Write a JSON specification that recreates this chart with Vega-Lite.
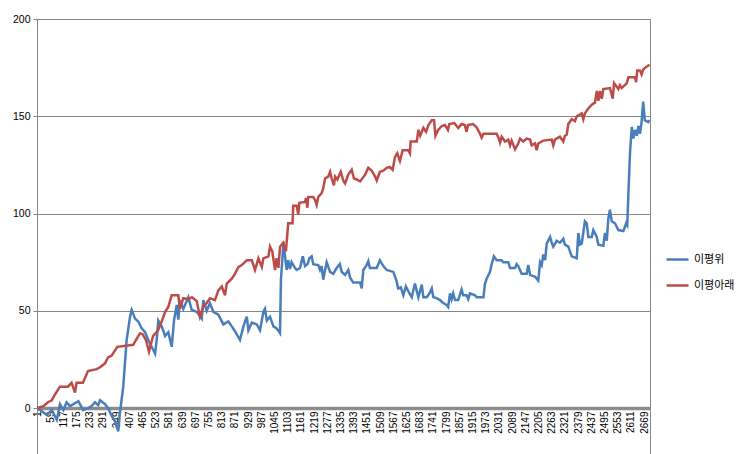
{
  "$schema": "https://vega.github.io/schema/vega-lite/v6.json",
  "width": 613,
  "height": 435,
  "autosize": {"type": "none"},
  "padding": {"left": 37, "top": 19, "right": 94, "bottom": 0},
  "background": "white",
  "config": {
    "view": {"stroke": "#868686", "strokeWidth": 1},
    "font": "Liberation Sans"
  },
  "data": {
    "values": [
      {"s": "이평위", "i": 1, "v": 0}, {"s": "이평위", "i": 44, "v": -3.5}, {"s": "이평위", "i": 66, "v": -1}, {"s": "이평위", "i": 88, "v": -6}, {"s": "이평위", "i": 102, "v": 2}, {"s": "이평위", "i": 117, "v": -1}, {"s": "이평위", "i": 131, "v": 3}, {"s": "이평위", "i": 146, "v": 1}, {"s": "이평위", "i": 161, "v": 2}, {"s": "이평위", "i": 183, "v": 3.5}, {"s": "이평위", "i": 204, "v": -1}, {"s": "이평위", "i": 226, "v": 0}, {"s": "이평위", "i": 241, "v": 1}, {"s": "이평위", "i": 256, "v": 3}, {"s": "이평위", "i": 270, "v": 1.5}, {"s": "이평위", "i": 278, "v": 4}, {"s": "이평위", "i": 300, "v": 2}, {"s": "이평위", "i": 313, "v": 0}, {"s": "이평위", "i": 329, "v": -4}, {"s": "이평위", "i": 344, "v": -7}, {"s": "이평위", "i": 358, "v": -12}, {"s": "이평위", "i": 366, "v": -2}, {"s": "이평위", "i": 380, "v": 11}, {"s": "이평위", "i": 395, "v": 35}, {"s": "이평위", "i": 410, "v": 47}, {"s": "이평위", "i": 417, "v": 50.5}, {"s": "이평위", "i": 432, "v": 46}, {"s": "이평위", "i": 446, "v": 44.5}, {"s": "이평위", "i": 461, "v": 41}, {"s": "이평위", "i": 476, "v": 39}, {"s": "이평위", "i": 490, "v": 35}, {"s": "이평위", "i": 505, "v": 31.5}, {"s": "이평위", "i": 520, "v": 28}, {"s": "이평위", "i": 527, "v": 35}, {"s": "이평위", "i": 534, "v": 45}, {"s": "이평위", "i": 549, "v": 42}, {"s": "이평위", "i": 564, "v": 37}, {"s": "이평위", "i": 578, "v": 39}, {"s": "이평위", "i": 593, "v": 31.5}, {"s": "이평위", "i": 603, "v": 45}, {"s": "이평위", "i": 615, "v": 53}, {"s": "이평위", "i": 622, "v": 45.5}, {"s": "이평위", "i": 629, "v": 55.5}, {"s": "이평위", "i": 644, "v": 51}, {"s": "이평위", "i": 666, "v": 57}, {"s": "이평위", "i": 681, "v": 50.5}, {"s": "이평위", "i": 703, "v": 49.5}, {"s": "이평위", "i": 725, "v": 46}, {"s": "이평위", "i": 732, "v": 55.5}, {"s": "이평위", "i": 747, "v": 50}, {"s": "이평위", "i": 761, "v": 54}, {"s": "이평위", "i": 776, "v": 49.5}, {"s": "이평위", "i": 798, "v": 48}, {"s": "이평위", "i": 820, "v": 43}, {"s": "이평위", "i": 842, "v": 44.5}, {"s": "이평위", "i": 857, "v": 42}, {"s": "이평위", "i": 871, "v": 39.5}, {"s": "이평위", "i": 893, "v": 35}, {"s": "이평위", "i": 908, "v": 42}, {"s": "이평위", "i": 923, "v": 47}, {"s": "이평위", "i": 930, "v": 40}, {"s": "이평위", "i": 945, "v": 44}, {"s": "이평위", "i": 967, "v": 43}, {"s": "이평위", "i": 981, "v": 40}, {"s": "이평위", "i": 996, "v": 49.5}, {"s": "이평위", "i": 1003, "v": 51}, {"s": "이평위", "i": 1011, "v": 45}, {"s": "이평위", "i": 1025, "v": 47}, {"s": "이평위", "i": 1040, "v": 42}, {"s": "이평위", "i": 1054, "v": 41}, {"s": "이평위", "i": 1069, "v": 38.5}, {"s": "이평위", "i": 1073, "v": 66}, {"s": "이평위", "i": 1079, "v": 76}, {"s": "이평위", "i": 1084, "v": 85.5}, {"s": "이평위", "i": 1091, "v": 78}, {"s": "이평위", "i": 1098, "v": 71}, {"s": "이평위", "i": 1105, "v": 76}, {"s": "이평위", "i": 1113, "v": 71.5}, {"s": "이평위", "i": 1120, "v": 75}, {"s": "이평위", "i": 1135, "v": 72}, {"s": "이평위", "i": 1142, "v": 71}, {"s": "이평위", "i": 1157, "v": 72}, {"s": "이평위", "i": 1169, "v": 78}, {"s": "이평위", "i": 1179, "v": 73}, {"s": "이평위", "i": 1190, "v": 74}, {"s": "이평위", "i": 1198, "v": 77}, {"s": "이평위", "i": 1208, "v": 78}, {"s": "이평위", "i": 1215, "v": 74}, {"s": "이평위", "i": 1237, "v": 73.5}, {"s": "이평위", "i": 1245, "v": 71}, {"s": "이평위", "i": 1252, "v": 73}, {"s": "이평위", "i": 1259, "v": 66}, {"s": "이평위", "i": 1267, "v": 71}, {"s": "이평위", "i": 1274, "v": 75}, {"s": "이평위", "i": 1289, "v": 70}, {"s": "이평위", "i": 1303, "v": 69}, {"s": "이평위", "i": 1318, "v": 72}, {"s": "이평위", "i": 1332, "v": 74}, {"s": "이평위", "i": 1340, "v": 70}, {"s": "이평위", "i": 1355, "v": 68.5}, {"s": "이평위", "i": 1369, "v": 71}, {"s": "이평위", "i": 1377, "v": 67}, {"s": "이평위", "i": 1391, "v": 64.5}, {"s": "이평위", "i": 1421, "v": 64.5}, {"s": "이평위", "i": 1428, "v": 61.5}, {"s": "이평위", "i": 1435, "v": 71}, {"s": "이평위", "i": 1450, "v": 73.5}, {"s": "이평위", "i": 1457, "v": 75.5}, {"s": "이평위", "i": 1464, "v": 72}, {"s": "이평위", "i": 1494, "v": 72}, {"s": "이평위", "i": 1508, "v": 76}, {"s": "이평위", "i": 1523, "v": 73}, {"s": "이평위", "i": 1538, "v": 71}, {"s": "이평위", "i": 1567, "v": 70}, {"s": "이평위", "i": 1582, "v": 65}, {"s": "이평위", "i": 1588, "v": 61.5}, {"s": "이평위", "i": 1600, "v": 62}, {"s": "이평위", "i": 1611, "v": 58}, {"s": "이평위", "i": 1622, "v": 62.5}, {"s": "이평위", "i": 1633, "v": 60}, {"s": "이평위", "i": 1648, "v": 57}, {"s": "이평위", "i": 1662, "v": 64}, {"s": "이평위", "i": 1677, "v": 57}, {"s": "이평위", "i": 1692, "v": 63.5}, {"s": "이평위", "i": 1699, "v": 57}, {"s": "이평위", "i": 1714, "v": 57}, {"s": "이평위", "i": 1728, "v": 59.5}, {"s": "이평위", "i": 1736, "v": 61.5}, {"s": "이평위", "i": 1743, "v": 57}, {"s": "이평위", "i": 1757, "v": 56.5}, {"s": "이평위", "i": 1772, "v": 55.5}, {"s": "이평위", "i": 1786, "v": 54}, {"s": "이평위", "i": 1801, "v": 53}, {"s": "이평위", "i": 1808, "v": 52}, {"s": "이평위", "i": 1816, "v": 59}, {"s": "이평위", "i": 1823, "v": 56}, {"s": "이평위", "i": 1830, "v": 59}, {"s": "이평위", "i": 1838, "v": 55.5}, {"s": "이평위", "i": 1852, "v": 55.5}, {"s": "이평위", "i": 1867, "v": 61}, {"s": "이평위", "i": 1874, "v": 58}, {"s": "이평위", "i": 1889, "v": 58}, {"s": "이평위", "i": 1896, "v": 56}, {"s": "이평위", "i": 1904, "v": 59}, {"s": "이평위", "i": 1926, "v": 58}, {"s": "이평위", "i": 1933, "v": 57}, {"s": "이평위", "i": 1963, "v": 57}, {"s": "이평위", "i": 1970, "v": 64}, {"s": "이평위", "i": 1977, "v": 66.5}, {"s": "이평위", "i": 1992, "v": 70}, {"s": "이평위", "i": 1999, "v": 74}, {"s": "이평위", "i": 2009, "v": 78}, {"s": "이평위", "i": 2021, "v": 76}, {"s": "이평위", "i": 2043, "v": 76}, {"s": "이평위", "i": 2050, "v": 75}, {"s": "이평위", "i": 2072, "v": 75}, {"s": "이평위", "i": 2080, "v": 72}, {"s": "이평위", "i": 2102, "v": 72}, {"s": "이평위", "i": 2109, "v": 74}, {"s": "이평위", "i": 2116, "v": 73}, {"s": "이평위", "i": 2131, "v": 69}, {"s": "이평위", "i": 2153, "v": 69}, {"s": "이평위", "i": 2160, "v": 73.5}, {"s": "이평위", "i": 2168, "v": 68.5}, {"s": "이평위", "i": 2190, "v": 67.5}, {"s": "이평위", "i": 2204, "v": 65.5}, {"s": "이평위", "i": 2212, "v": 75}, {"s": "이평위", "i": 2219, "v": 73.5}, {"s": "이평위", "i": 2226, "v": 79}, {"s": "이평위", "i": 2234, "v": 76}, {"s": "이평위", "i": 2241, "v": 84.5}, {"s": "이평위", "i": 2256, "v": 88}, {"s": "이평위", "i": 2263, "v": 85}, {"s": "이평위", "i": 2270, "v": 83}, {"s": "이평위", "i": 2285, "v": 86}, {"s": "이평위", "i": 2299, "v": 85}, {"s": "이평위", "i": 2314, "v": 87}, {"s": "이평위", "i": 2321, "v": 84}, {"s": "이평위", "i": 2336, "v": 83}, {"s": "이평위", "i": 2351, "v": 78}, {"s": "이평위", "i": 2373, "v": 77}, {"s": "이평위", "i": 2380, "v": 90}, {"s": "이평위", "i": 2387, "v": 84}, {"s": "이평위", "i": 2395, "v": 84.5}, {"s": "이평위", "i": 2409, "v": 96}, {"s": "이평위", "i": 2417, "v": 95}, {"s": "이평위", "i": 2424, "v": 88}, {"s": "이평위", "i": 2439, "v": 88}, {"s": "이평위", "i": 2446, "v": 91.5}, {"s": "이평위", "i": 2461, "v": 88}, {"s": "이평위", "i": 2468, "v": 84}, {"s": "이평위", "i": 2490, "v": 83.5}, {"s": "이평위", "i": 2497, "v": 90}, {"s": "이평위", "i": 2505, "v": 86}, {"s": "이평위", "i": 2512, "v": 97.5}, {"s": "이평위", "i": 2519, "v": 102}, {"s": "이평위", "i": 2527, "v": 96}, {"s": "이평위", "i": 2541, "v": 95}, {"s": "이평위", "i": 2556, "v": 91.5}, {"s": "이평위", "i": 2578, "v": 91}, {"s": "이평위", "i": 2590, "v": 95}, {"s": "이평위", "i": 2595, "v": 94}, {"s": "이평위", "i": 2600, "v": 110}, {"s": "이평위", "i": 2607, "v": 131}, {"s": "이평위", "i": 2615, "v": 144.5}, {"s": "이평위", "i": 2622, "v": 138.5}, {"s": "이평위", "i": 2629, "v": 143}, {"s": "이평위", "i": 2637, "v": 140}, {"s": "이평위", "i": 2644, "v": 145}, {"s": "이평위", "i": 2651, "v": 141}, {"s": "이평위", "i": 2658, "v": 147}, {"s": "이평위", "i": 2665, "v": 157.5}, {"s": "이평위", "i": 2672, "v": 148}, {"s": "이평위", "i": 2687, "v": 147}, {"s": "이평위", "i": 2693, "v": 148},
      {"s": "이평아래", "i": 1, "v": 0}, {"s": "이평아래", "i": 29, "v": 1}, {"s": "이평아래", "i": 49, "v": 3}, {"s": "이평아래", "i": 66, "v": 4}, {"s": "이평아래", "i": 80, "v": 7}, {"s": "이평아래", "i": 102, "v": 11}, {"s": "이평아래", "i": 137, "v": 11}, {"s": "이평아래", "i": 153, "v": 13}, {"s": "이평아래", "i": 168, "v": 8}, {"s": "이평아래", "i": 175, "v": 13}, {"s": "이평아래", "i": 203, "v": 13}, {"s": "이평아래", "i": 225, "v": 19}, {"s": "이평아래", "i": 263, "v": 20}, {"s": "이평아래", "i": 278, "v": 21}, {"s": "이평아래", "i": 300, "v": 23}, {"s": "이평아래", "i": 313, "v": 26}, {"s": "이평아래", "i": 329, "v": 27}, {"s": "이평아래", "i": 354, "v": 31.5}, {"s": "이평아래", "i": 424, "v": 32.5}, {"s": "이평아래", "i": 436, "v": 35}, {"s": "이평아래", "i": 454, "v": 38.5}, {"s": "이평아래", "i": 465, "v": 38}, {"s": "이평아래", "i": 480, "v": 35}, {"s": "이평아래", "i": 493, "v": 29}, {"s": "이평아래", "i": 511, "v": 37}, {"s": "이평아래", "i": 533, "v": 40}, {"s": "이평아래", "i": 549, "v": 44.5}, {"s": "이평아래", "i": 564, "v": 49.5}, {"s": "이평아래", "i": 578, "v": 52}, {"s": "이평아래", "i": 593, "v": 58}, {"s": "이평아래", "i": 622, "v": 58}, {"s": "이평아래", "i": 629, "v": 51}, {"s": "이평아래", "i": 644, "v": 56.5}, {"s": "이평아래", "i": 666, "v": 56}, {"s": "이평아래", "i": 682, "v": 57}, {"s": "이평아래", "i": 703, "v": 55}, {"s": "이평아래", "i": 717, "v": 47}, {"s": "이평아래", "i": 731, "v": 52}, {"s": "이평아래", "i": 747, "v": 54}, {"s": "이평아래", "i": 761, "v": 56.5}, {"s": "이평아래", "i": 783, "v": 55.5}, {"s": "이평아래", "i": 798, "v": 60.5}, {"s": "이평아래", "i": 813, "v": 62.5}, {"s": "이평아래", "i": 827, "v": 58}, {"s": "이평아래", "i": 835, "v": 64}, {"s": "이평아래", "i": 857, "v": 66.5}, {"s": "이평아래", "i": 871, "v": 69}, {"s": "이평아래", "i": 886, "v": 72.5}, {"s": "이평아래", "i": 901, "v": 73.5}, {"s": "이평아래", "i": 923, "v": 76}, {"s": "이평아래", "i": 945, "v": 76}, {"s": "이평아래", "i": 959, "v": 71}, {"s": "이평아래", "i": 974, "v": 77}, {"s": "이평아래", "i": 989, "v": 72.5}, {"s": "이평아래", "i": 996, "v": 77}, {"s": "이평아래", "i": 1018, "v": 78}, {"s": "이평아래", "i": 1025, "v": 83}, {"s": "이평아래", "i": 1035, "v": 80.5}, {"s": "이평아래", "i": 1047, "v": 71}, {"s": "이평아래", "i": 1054, "v": 77}, {"s": "이평아래", "i": 1062, "v": 72}, {"s": "이평아래", "i": 1069, "v": 83}, {"s": "이평아래", "i": 1083, "v": 85}, {"s": "이평아래", "i": 1095, "v": 80.5}, {"s": "이평아래", "i": 1105, "v": 95}, {"s": "이평아래", "i": 1124, "v": 95}, {"s": "이평아래", "i": 1127, "v": 104}, {"s": "이평아래", "i": 1142, "v": 104}, {"s": "이평아래", "i": 1149, "v": 99.5}, {"s": "이평아래", "i": 1154, "v": 105.5}, {"s": "이평아래", "i": 1179, "v": 106}, {"s": "이평아래", "i": 1183, "v": 108}, {"s": "이평아래", "i": 1189, "v": 103}, {"s": "이평아래", "i": 1193, "v": 108.5}, {"s": "이평아래", "i": 1215, "v": 108.5}, {"s": "이평아래", "i": 1223, "v": 107}, {"s": "이평아래", "i": 1230, "v": 104.5}, {"s": "이평아래", "i": 1237, "v": 108.5}, {"s": "이평아래", "i": 1252, "v": 110.5}, {"s": "이평아래", "i": 1259, "v": 113}, {"s": "이평아래", "i": 1267, "v": 118}, {"s": "이평아래", "i": 1281, "v": 119}, {"s": "이평아래", "i": 1289, "v": 121.5}, {"s": "이평아래", "i": 1296, "v": 118}, {"s": "이평아래", "i": 1306, "v": 114.5}, {"s": "이평아래", "i": 1311, "v": 119}, {"s": "이평아래", "i": 1321, "v": 117.5}, {"s": "이평아래", "i": 1336, "v": 121.5}, {"s": "이평아래", "i": 1347, "v": 117}, {"s": "이평아래", "i": 1355, "v": 115.5}, {"s": "이평아래", "i": 1369, "v": 120}, {"s": "이평아래", "i": 1384, "v": 122.5}, {"s": "이평아래", "i": 1394, "v": 118}, {"s": "이평아래", "i": 1406, "v": 117.5}, {"s": "이평아래", "i": 1421, "v": 116.5}, {"s": "이평아래", "i": 1443, "v": 120}, {"s": "이평아래", "i": 1457, "v": 123.5}, {"s": "이평아래", "i": 1472, "v": 122}, {"s": "이평아래", "i": 1487, "v": 119}, {"s": "이평아래", "i": 1494, "v": 117}, {"s": "이평아래", "i": 1508, "v": 121.5}, {"s": "이평아래", "i": 1523, "v": 122}, {"s": "이평아래", "i": 1538, "v": 123.5}, {"s": "이평아래", "i": 1552, "v": 124}, {"s": "이평아래", "i": 1564, "v": 122.5}, {"s": "이평아래", "i": 1574, "v": 129}, {"s": "이평아래", "i": 1584, "v": 131}, {"s": "이평아래", "i": 1596, "v": 127}, {"s": "이평아래", "i": 1608, "v": 132.5}, {"s": "이평아래", "i": 1633, "v": 132.5}, {"s": "이평아래", "i": 1640, "v": 131}, {"s": "이평아래", "i": 1643, "v": 137}, {"s": "이평아래", "i": 1670, "v": 137}, {"s": "이평아래", "i": 1677, "v": 143}, {"s": "이평아래", "i": 1685, "v": 140}, {"s": "이평아래", "i": 1699, "v": 144}, {"s": "이평아래", "i": 1711, "v": 142}, {"s": "이평아래", "i": 1721, "v": 145.5}, {"s": "이평아래", "i": 1736, "v": 148}, {"s": "이평아래", "i": 1746, "v": 148}, {"s": "이평아래", "i": 1752, "v": 140}, {"s": "이평아래", "i": 1764, "v": 143}, {"s": "이평아래", "i": 1780, "v": 145}, {"s": "이평아래", "i": 1794, "v": 145.5}, {"s": "이평아래", "i": 1807, "v": 143}, {"s": "이평아래", "i": 1813, "v": 146}, {"s": "이평아래", "i": 1835, "v": 146.5}, {"s": "이평아래", "i": 1852, "v": 144}, {"s": "이평아래", "i": 1867, "v": 146}, {"s": "이평아래", "i": 1881, "v": 145.5}, {"s": "이평아래", "i": 1889, "v": 142}, {"s": "이평아래", "i": 1895, "v": 145.5}, {"s": "이평아래", "i": 1917, "v": 146}, {"s": "이평아래", "i": 1932, "v": 144.5}, {"s": "이평아래", "i": 1948, "v": 141}, {"s": "이평아래", "i": 1955, "v": 139}, {"s": "이평아래", "i": 1963, "v": 141}, {"s": "이평아래", "i": 2021, "v": 141}, {"s": "이평아래", "i": 2029, "v": 139}, {"s": "이평아래", "i": 2036, "v": 136.5}, {"s": "이평아래", "i": 2043, "v": 139.5}, {"s": "이평아래", "i": 2058, "v": 137}, {"s": "이평아래", "i": 2072, "v": 138}, {"s": "이평아래", "i": 2080, "v": 135}, {"s": "이평아래", "i": 2087, "v": 137.5}, {"s": "이평아래", "i": 2102, "v": 133}, {"s": "이평아래", "i": 2116, "v": 136}, {"s": "이평아래", "i": 2124, "v": 138.5}, {"s": "이평아래", "i": 2138, "v": 137}, {"s": "이평아래", "i": 2153, "v": 138.5}, {"s": "이평아래", "i": 2168, "v": 138}, {"s": "이평아래", "i": 2175, "v": 135}, {"s": "이평아래", "i": 2190, "v": 136}, {"s": "이평아래", "i": 2197, "v": 132.5}, {"s": "이평아래", "i": 2204, "v": 136}, {"s": "이평아래", "i": 2226, "v": 137.5}, {"s": "이평아래", "i": 2263, "v": 138}, {"s": "이평아래", "i": 2270, "v": 135}, {"s": "이평아래", "i": 2277, "v": 138}, {"s": "이평아래", "i": 2299, "v": 139.5}, {"s": "이평아래", "i": 2314, "v": 137}, {"s": "이평아래", "i": 2321, "v": 140}, {"s": "이평아래", "i": 2329, "v": 140.5}, {"s": "이평아래", "i": 2336, "v": 146}, {"s": "이평아래", "i": 2351, "v": 148.5}, {"s": "이평아래", "i": 2365, "v": 147.5}, {"s": "이평아래", "i": 2373, "v": 150}, {"s": "이평아래", "i": 2395, "v": 151.5}, {"s": "이평아래", "i": 2402, "v": 148.5}, {"s": "이평아래", "i": 2409, "v": 151.5}, {"s": "이평아래", "i": 2424, "v": 154}, {"s": "이평아래", "i": 2439, "v": 156}, {"s": "이평아래", "i": 2453, "v": 157}, {"s": "이평아래", "i": 2461, "v": 163}, {"s": "이평아래", "i": 2468, "v": 158}, {"s": "이평아래", "i": 2475, "v": 163}, {"s": "이평아래", "i": 2483, "v": 159}, {"s": "이평아래", "i": 2490, "v": 164}, {"s": "이평아래", "i": 2519, "v": 164.5}, {"s": "이평아래", "i": 2531, "v": 159}, {"s": "이평아래", "i": 2537, "v": 167}, {"s": "이평아래", "i": 2556, "v": 164}, {"s": "이평아래", "i": 2563, "v": 166}, {"s": "이평아래", "i": 2571, "v": 164.5}, {"s": "이평아래", "i": 2593, "v": 167}, {"s": "이평아래", "i": 2600, "v": 170}, {"s": "이평아래", "i": 2629, "v": 170}, {"s": "이평아래", "i": 2634, "v": 167.5}, {"s": "이평아래", "i": 2639, "v": 173.5}, {"s": "이평아래", "i": 2651, "v": 173.5}, {"s": "이평아래", "i": 2658, "v": 171.5}, {"s": "이평아래", "i": 2665, "v": 174}, {"s": "이평아래", "i": 2680, "v": 175.5}, {"s": "이평아래", "i": 2693, "v": 176.5}
    ]
  },
  "mark": {"type": "line", "strokeWidth": 2.5, "clip": true, "interpolate": "linear"},
  "encoding": {
    "x": {
      "field": "i",
      "type": "quantitative",
      "scale": {"domain": [1, 2695], "nice": false, "zero": false},
      "axis": {
        "title": null,
        "format": "d",
        "values": [1, 59, 117, 175, 233, 291, 349, 407, 465, 523, 581, 639, 697, 755, 813, 871, 929, 987, 1045, 1103, 1161, 1219, 1277, 1335, 1393, 1451, 1509, 1567, 1625, 1683, 1741, 1799, 1857, 1915, 1973, 2031, 2089, 2147, 2205, 2263, 2321, 2379, 2437, 2495, 2553, 2611, 2669],
        "offset": -46,
        "labelAngle": -90,
        "labelFontSize": 10,
        "labelColor": "#000000",
        "labelPadding": 3,
        "labelOverlap": false,
        "labelFlush": false,
        "ticks": false,
        "grid": false,
        "domainColor": "#8c8c8c",
        "domainWidth": 3.5
      }
    },
    "y": {
      "field": "v",
      "type": "quantitative",
      "scale": {"domain": [-23.6, 200], "nice": false, "zero": false},
      "axis": {
        "title": null,
        "values": [0, 50, 100, 150, 200],
        "labelFontSize": 10.5,
        "labelColor": "#000000",
        "labelPadding": 3,
        "tickSize": 4,
        "tickColor": "#868686",
        "domainColor": "#868686",
        "grid": true,
        "gridColor": "#868686",
        "gridWidth": 1
      }
    },
    "color": {
      "field": "s",
      "type": "nominal",
      "sort": ["이평위", "이평아래"],
      "scale": {"domain": ["이평위", "이평아래"], "range": ["#4A7EBB", "#BE4B48"]},
      "legend": {
        "title": null,
        "orient": "none",
        "legendX": 628,
        "legendY": 228,
        "symbolType": "stroke",
        "symbolSize": 484,
        "symbolStrokeWidth": 2.5,
        "labelFont": "Noto Sans CJK KR",
        "labelFontSize": 11,
        "labelColor": "#000000",
        "labelOffset": 4,
        "rowPadding": 8
      }
    }
  }
}
